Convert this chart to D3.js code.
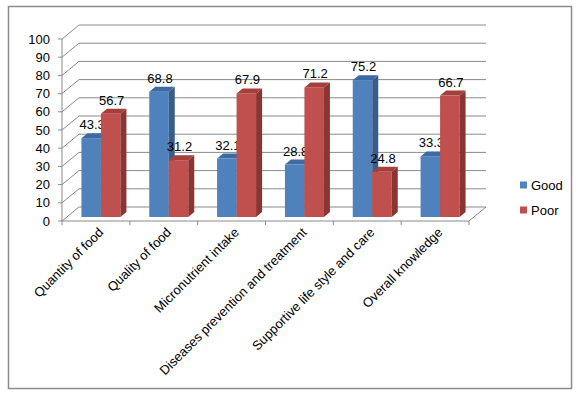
<!DOCTYPE html>
<html>
<head>
<meta charset="utf-8">
<script src="https://cdn.jsdelivr.net/npm/d3@7"></script>
<style>
  body { margin: 0; background: #fff; }
  text { font-family: "Liberation Sans", Arial, sans-serif; fill: #000; }
</style>
</head>
<body>
<svg id="chart" width="578" height="396"></svg>
<script>
// data
var categories = ["Quantity of food", "Quality of food", "Micronutrient intake",
    "Diseases prevention and treatment", "Supportive life style and care", "Overall knowledge"];
var good = [43.3, 68.8, 32.1, 28.8, 75.2, 33.3];
var poor = [56.7, 31.2, 67.9, 71.2, 24.8, 66.7];
var seriesNames = ["Good", "Poor"];
var yTicks = [0, 10, 20, 30, 40, 50, 60, 70, 80, 90, 100];

var colors = {
    Good: { front: "#4f81bd", side: "#385d8a", top: "#3d6aa3" },
    Poor: { front: "#c0504d", side: "#8c3432", top: "#a53f3c" }
};

var svg = d3.select("#chart");

// outer frame
svg.append("rect")
    .attr("x", 8.5).attr("y", 6.5)
    .attr("width", 563).attr("height", 382)
    .attr("fill", "#fff").attr("stroke", "#8c8c8c").attr("stroke-width", 1.5);

var x0 = 62, x1 = 469, yBase = 221;
var depth = { dx: 17, dy: -14 };     // floor / wall depth
var barOff = { dx: 5, dy: -4 };      // where the bar front faces sit
var barDepth = { dx: 6, dy: -5 };

var x = d3.scaleBand().domain(categories).range([x0, x1]);
var y = d3.scaleLinear().domain([0, 100]).range([yBase, 39]);

var barW = 19.5;
var groupW = barW * seriesNames.length;
var grid = svg.append("g").attr("fill", "none").attr("stroke", "#8a8a8a").attr("stroke-width", 1);

// walls: left diagonals and back horizontal lines
yTicks.forEach(function (t) {
    var yy = y(t);
    grid.append("line")
        .attr("x1", x0).attr("y1", yy)
        .attr("x2", x0 + depth.dx).attr("y2", yy + depth.dy);
    grid.append("line")
        .attr("x1", x0 + depth.dx).attr("y1", yy + depth.dy)
        .attr("x2", x1 + depth.dx).attr("y2", yy + depth.dy);
});

// floor
grid.append("path")
    .attr("d", "M" + x0 + "," + yBase + "L" + x1 + "," + yBase +
        "L" + (x1 + depth.dx) + "," + (yBase + depth.dy));

// value axis
var axis = svg.append("g").attr("stroke", "#8a8a8a");
axis.append("line")
    .attr("x1", x0).attr("x2", x0)
    .attr("y1", y(0)).attr("y2", y(100));
axis.selectAll(".yt").data(yTicks).enter().append("line")
    .attr("x1", x0 - 4).attr("x2", x0)
    .attr("y1", function (d) { return y(d); })
    .attr("y2", function (d) { return y(d); });

svg.selectAll(".ylab").data(yTicks).enter().append("text")
    .attr("x", 50)
    .attr("y", function (d) { return y(d); })
    .attr("dy", "0.35em")
    .attr("text-anchor", "end")
    .style("font-size", "13px")
    .text(function (d) { return d; });

// category ticks
axis.selectAll(".xt").data(categories.concat([null])).enter().append("line")
    .attr("x1", function (d, i) { return x0 + i * x.bandwidth(); })
    .attr("x2", function (d, i) { return x0 + i * x.bandwidth(); })
    .attr("y1", yBase).attr("y2", yBase + 4);

svg.selectAll(".xlab").data(categories).enter().append("text")
    .attr("transform", function (d) {
        return "translate(" + (x(d) + x.bandwidth() / 2 + 5) + "," + (yBase + 9) + ") rotate(-45)";
    })
    .attr("text-anchor", "end")
    .attr("dy", "0.35em")
    .style("font-size", "13px")
    .text(function (d) { return d; });

// bars
var rows = [];
categories.forEach(function (c, i) {
    rows.push({ cat: c, s: "Good", v: good[i], k: 0 });
    rows.push({ cat: c, s: "Poor", v: poor[i], k: 1 });
});

var bars = svg.append("g").selectAll("g").data(rows).enter().append("g");

function bx(d) {
    return x(d.cat) + (x.bandwidth() - groupW) / 2 + d.k * barW + barOff.dx;
}
function by(d) { return y(d.v) + barOff.dy; }
var bBottom = yBase + barOff.dy;

bars.append("rect")
    .attr("x", bx)
    .attr("y", by)
    .attr("width", barW)
    .attr("height", function (d) { return bBottom - by(d); })
    .attr("fill", function (d) { return colors[d.s].front; });

bars.append("path")
    .attr("d", function (d) {
        var l = bx(d) + barW, t = by(d);
        return "M" + l + "," + t + "L" + (l + barDepth.dx) + "," + (t + barDepth.dy) +
            "L" + (l + barDepth.dx) + "," + (bBottom + barDepth.dy) + "L" + l + "," + bBottom + "Z";
    })
    .attr("fill", function (d) { return colors[d.s].side; });

bars.append("path")
    .attr("d", function (d) {
        var l = bx(d), t = by(d);
        return "M" + l + "," + t + "L" + (l + barDepth.dx) + "," + (t + barDepth.dy) +
            "L" + (l + barW + barDepth.dx) + "," + (t + barDepth.dy) + "L" + (l + barW) + "," + t + "Z";
    })
    .attr("fill", function (d) { return colors[d.s].top; });

bars.append("text")
    .attr("x", function (d) { return bx(d) + barW / 2 + 1; })
    .attr("y", function (d) { return by(d) - 9; })
    .attr("text-anchor", "middle")
    .style("font-size", "13px")
    .text(function (d) { return d.v; });

// legend
var legend = svg.append("g").selectAll("g").data(seriesNames).enter().append("g")
    .attr("transform", function (d, i) { return "translate(520," + (185 + i * 25) + ")"; });
legend.append("rect")
    .attr("x", 0).attr("y", -3.5).attr("width", 7).attr("height", 7)
    .attr("fill", function (d) { return colors[d].front; });
legend.append("text")
    .attr("x", 11).attr("dy", "0.35em")
    .style("font-size", "13px")
    .text(function (d) { return d; });
</script>
</body>
</html>
